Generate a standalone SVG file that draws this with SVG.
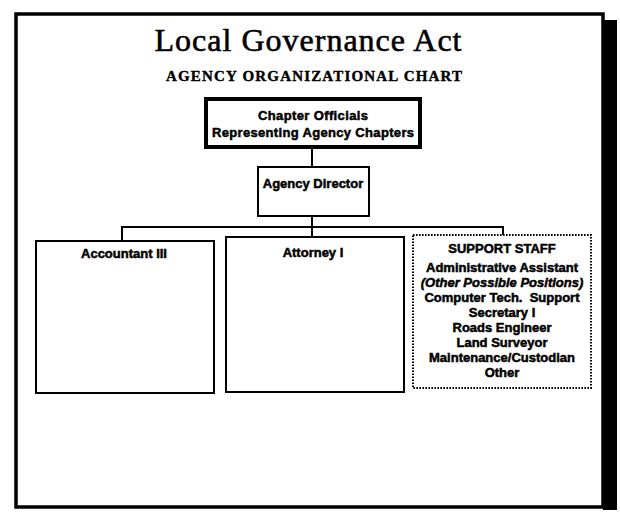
<svg xmlns="http://www.w3.org/2000/svg" width="620" height="512" viewBox="0 0 620 512">
<style>
.t{font-family:"Liberation Sans",Arial,sans-serif;font-weight:bold;font-size:13px;text-anchor:middle;fill:#000;stroke:#000;stroke-width:0.5}
.box{fill:#fff;stroke:#000;stroke-width:2}
.conn{stroke:#000;stroke-width:2;fill:none}
</style>
<rect width="620" height="512" fill="#fff"/>
<g id="frame">
<rect x="603" y="20" width="14" height="490" fill="#000"/>
<rect x="16" y="14" width="587" height="493" fill="#fff" stroke="#000" stroke-width="3.5"/>
<text x="308" y="51" font-family="'Liberation Serif','Times New Roman',serif" font-size="32" text-anchor="middle" textLength="307" lengthAdjust="spacing" stroke="#000" stroke-width="0.6">Local Governance Act</text>
<text x="314" y="81" font-family="'Liberation Serif','Times New Roman',serif" font-size="15" font-weight="bold" text-anchor="middle" textLength="296" lengthAdjust="spacing" stroke="#000" stroke-width="0.4">AGENCY ORGANIZATIONAL CHART</text>
</g>
<g id="connectors">
<line class="conn" x1="312" y1="148" x2="312" y2="168"/>
<line class="conn" x1="312" y1="216" x2="312" y2="228"/>
<line class="conn" x1="122" y1="227" x2="503" y2="227"/>
<line class="conn" x1="122" y1="226" x2="122" y2="241"/>
<line class="conn" x1="312" y1="226" x2="312" y2="237"/>
<line class="conn" x1="503" y1="226" x2="503" y2="235"/>
</g>
<g id="chapter-officials">
<rect x="206" y="99" width="214" height="48" fill="#fff" stroke="#000" stroke-width="4"/>
<text class="t" x="313" y="120" textLength="110" lengthAdjust="spacing">Chapter Officials</text>
<text class="t" x="313" y="137" textLength="202" lengthAdjust="spacing">Representing Agency Chapters</text>
</g>
<g id="agency-director">
<rect class="box" x="258" y="167" width="111" height="49"/>
<text class="t" x="313" y="188" font-size="13.5">Agency Director</text>
</g>
<g id="accountant">
<rect class="box" x="36" y="241" width="178" height="152"/>
<text class="t" x="124" y="258">Accountant III</text>
</g>
<g id="attorney">
<rect class="box" x="226" y="237" width="178" height="155"/>
<text class="t" x="313" y="257">Attorney I</text>
</g>
<g id="support-staff">
<rect x="413" y="235" width="178" height="153" fill="#fff" stroke="#000" stroke-width="2" stroke-dasharray="1.6 1.4"/>
<text class="t" x="502" y="253" font-size="13.5">SUPPORT STAFF</text>
<text class="t" x="502" y="272">Administrative Assistant</text>
<text class="t" x="502" y="287" font-style="italic">(Other Possible Positions)</text>
<text class="t" x="502" y="302" xml:space="preserve">Computer Tech.  Support</text>
<text class="t" x="502" y="317">Secretary I</text>
<text class="t" x="502" y="332">Roads Engineer</text>
<text class="t" x="502" y="347">Land Surveyor</text>
<text class="t" x="502" y="362">Maintenance/Custodian</text>
<text class="t" x="502" y="377">Other</text>
</g>
</svg>
